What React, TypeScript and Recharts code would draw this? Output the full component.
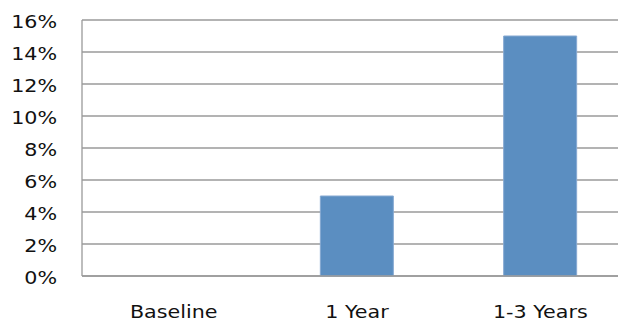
import React from "react";
import { BarChart, Bar, XAxis, YAxis, CartesianGrid } from "recharts";

const categories = ["Baseline", "1 Year", "1-3 Years"];
const values = [0, 5, 15];
const yTicks = [0, 2, 4, 6, 8, 10, 12, 14, 16];

const data = categories.map((name, i) => ({ name, value: values[i] }));

const FONT = "'DejaVu Sans', Verdana, sans-serif";
const FONT_SIZE = 17.5;
const STRETCH = 1.18;
const GRID = "#9a9a9a";

const YTick = (props: any) => {
  const { x, y, payload } = props;
  return (
    <g transform={`translate(${x - 25},${y}) scale(${STRETCH},1)`}>
      <text x={0} y={8} textAnchor="end" fill="#111" fontFamily={FONT} fontSize={FONT_SIZE}>
        {`${payload.value}%`}
      </text>
    </g>
  );
};

const XTick = (props: any) => {
  const { x, y, payload } = props;
  return (
    <g transform={`translate(${x},${y + 42}) scale(${STRETCH},1)`}>
      <text x={0} y={0} textAnchor="middle" fill="#111" fontFamily={FONT} fontSize={FONT_SIZE}>
        {payload.value}
      </text>
    </g>
  );
};

export default function App() {
  return (
    <div style={{ position: "relative", width: 618, height: 315, overflow: "hidden" }}>
      <BarChart
        width={630}
        height={315}
        data={data}
        margin={{ top: 12, right: 6, left: 0, bottom: 17 }}
        barCategoryGap="30%"
      >
        <CartesianGrid vertical={false} stroke={GRID} strokeWidth={1.3} />
        <XAxis
          dataKey="name"
          height={30}
          tickLine={false}
          tickSize={0}
          tickMargin={0}
          axisLine={{ stroke: GRID, strokeWidth: 1.3 }}
          tick={<XTick />}
          interval={0}
        />
        <YAxis
          width={74}
          domain={[0, 16]}
          ticks={yTicks}
          interval={0}
          tickLine={false}
          tickSize={0}
          tickMargin={0}
          axisLine={{ stroke: GRID, strokeWidth: 1.3 }}
          tick={<YTick />}
        />
        <Bar dataKey="value" fill="#5B8EC1" stroke="#86A9D2" strokeWidth={1} isAnimationActive={false} />
      </BarChart>
    </div>
  );
}
